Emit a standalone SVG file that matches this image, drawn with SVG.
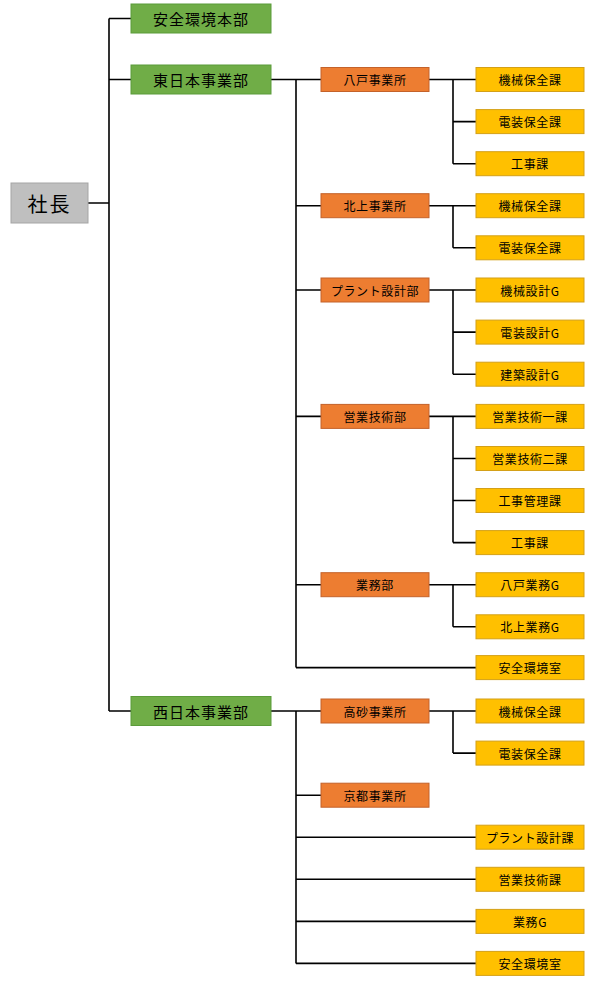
<svg xmlns="http://www.w3.org/2000/svg" width="590" height="986" viewBox="0 0 590 986">
<style>
.g{fill:#70AD47;stroke:#5B9B3A;stroke-width:1}
.o{fill:#ED7D31;stroke:#C4622A;stroke-width:1}
.y{fill:#FFC000;stroke:#D4A017;stroke-width:1}
.p{fill:#BFBFBF;stroke:#A5A5A5;stroke-width:1}
text{font-family:"Noto Sans CJK JP","Liberation Sans",sans-serif;fill:#000;text-anchor:middle;dominant-baseline:central}
.t1{font-size:20px;letter-spacing:2px}
.t2{font-size:15px;letter-spacing:1px}
.t3{font-size:12px;letter-spacing:0.6px}
.c path{fill:none;stroke:#000;stroke-width:1.6}
</style>
<g class="c">
<path d="M88 203H109M109 18.5V711M109 18.5H131M109 79.5H131M109 711H131"/>
<path d="M271 79.5H321M296 79.5V667.6M296 205.7H321M296 290H321M296 416.4H321M296 584.7H321M296 667.6H476"/>
<path d="M429 79.5H476M453 79.5V163.7M453 121.6H476M453 163.7H476"/>
<path d="M429 205.7H476M453 205.7V247.8M453 247.8H476"/>
<path d="M429 290H476M453 290V374.2M453 332.1H476M453 374.2H476"/>
<path d="M429 416.4H476M453 416.4V542.6M453 458.5H476M453 500.5H476M453 542.6H476"/>
<path d="M429 584.7H476M453 584.7V626.8M453 626.8H476"/>
<path d="M271 711H321M296 711V963.4M296 795.2H321M296 837.2H476M296 879.3H476M296 921.4H476M296 963.4H476"/>
<path d="M429 711H476M453 711V753.1M453 753.1H476"/>
</g>
<g id="shacho"><rect class="p" x="11" y="183" width="77" height="40"/><text class="t1" x="49.5" y="203">社長</text></g>
<g id="anzen-honbu"><rect class="g" x="131" y="4" width="140" height="29"/><text class="t2" x="201" y="18.5">安全環境本部</text></g>
<g id="higashi"><rect class="g" x="131" y="65" width="140" height="29"/><text class="t2" x="201" y="79.5">東日本事業部</text></g>
<g id="nishi"><rect class="g" x="131" y="696.5" width="140" height="29"/><text class="t2" x="201" y="711">西日本事業部</text></g>

<g id="hachinohe"><rect class="o" x="321" y="67.5" width="108" height="24"/><text class="t3" x="375" y="79.5">八戸事業所</text></g>
<g id="h-kikai"><rect class="y" x="476" y="67.5" width="108" height="24"/><text class="t3" x="530" y="79.5">機械保全課</text></g>
<g id="h-denso"><rect class="y" x="476" y="109.6" width="108" height="24"/><text class="t3" x="530" y="121.6">電装保全課</text></g>
<g id="h-koji"><rect class="y" x="476" y="151.7" width="108" height="24"/><text class="t3" x="530" y="163.7">工事課</text></g>

<g id="kitakami"><rect class="o" x="321" y="193.7" width="108" height="24"/><text class="t3" x="375" y="205.7">北上事業所</text></g>
<g id="k-kikai"><rect class="y" x="476" y="193.7" width="108" height="24"/><text class="t3" x="530" y="205.7">機械保全課</text></g>
<g id="k-denso"><rect class="y" x="476" y="235.8" width="108" height="24"/><text class="t3" x="530" y="247.8">電装保全課</text></g>

<g id="plant"><rect class="o" x="321" y="278" width="108" height="24"/><text class="t3" x="375" y="290">プラント設計部</text></g>
<g id="p-kikai"><rect class="y" x="476" y="278" width="108" height="24"/><text class="t3" x="530" y="290">機械設計G</text></g>
<g id="p-denso"><rect class="y" x="476" y="320.1" width="108" height="24"/><text class="t3" x="530" y="332.1">電装設計G</text></g>
<g id="p-kenchiku"><rect class="y" x="476" y="362.2" width="108" height="24"/><text class="t3" x="530" y="374.2">建築設計G</text></g>

<g id="eigyo"><rect class="o" x="321" y="404.4" width="108" height="24"/><text class="t3" x="375" y="416.4">営業技術部</text></g>
<g id="e-1"><rect class="y" x="476" y="404.4" width="108" height="24"/><text class="t3" x="530" y="416.4">営業技術一課</text></g>
<g id="e-2"><rect class="y" x="476" y="446.5" width="108" height="24"/><text class="t3" x="530" y="458.5">営業技術二課</text></g>
<g id="e-kanri"><rect class="y" x="476" y="488.5" width="108" height="24"/><text class="t3" x="530" y="500.5">工事管理課</text></g>
<g id="e-koji"><rect class="y" x="476" y="530.6" width="108" height="24"/><text class="t3" x="530" y="542.6">工事課</text></g>

<g id="gyomu"><rect class="o" x="321" y="572.7" width="108" height="24"/><text class="t3" x="375" y="584.7">業務部</text></g>
<g id="g-hachinohe"><rect class="y" x="476" y="572.7" width="108" height="24"/><text class="t3" x="530" y="584.7">八戸業務G</text></g>
<g id="g-kitakami"><rect class="y" x="476" y="614.8" width="108" height="24"/><text class="t3" x="530" y="626.8">北上業務G</text></g>
<g id="e-anzen"><rect class="y" x="476" y="655.6" width="108" height="24"/><text class="t3" x="530" y="667.6">安全環境室</text></g>

<g id="takasago"><rect class="o" x="321" y="699" width="108" height="24"/><text class="t3" x="375" y="711">高砂事業所</text></g>
<g id="t-kikai"><rect class="y" x="476" y="699" width="108" height="24"/><text class="t3" x="530" y="711">機械保全課</text></g>
<g id="t-denso"><rect class="y" x="476" y="741.1" width="108" height="24"/><text class="t3" x="530" y="753.1">電装保全課</text></g>
<g id="kyoto"><rect class="o" x="321" y="783.2" width="108" height="24"/><text class="t3" x="375" y="795.2">京都事業所</text></g>
<g id="w-plant"><rect class="y" x="476" y="825.2" width="108" height="24"/><text class="t3" x="530" y="837.2">プラント設計課</text></g>
<g id="w-eigyo"><rect class="y" x="476" y="867.3" width="108" height="24"/><text class="t3" x="530" y="879.3">営業技術課</text></g>
<g id="w-gyomu"><rect class="y" x="476" y="909.4" width="108" height="24"/><text class="t3" x="530" y="921.4">業務G</text></g>
<g id="w-anzen"><rect class="y" x="476" y="951.4" width="108" height="24"/><text class="t3" x="530" y="963.4">安全環境室</text></g>
</svg>
